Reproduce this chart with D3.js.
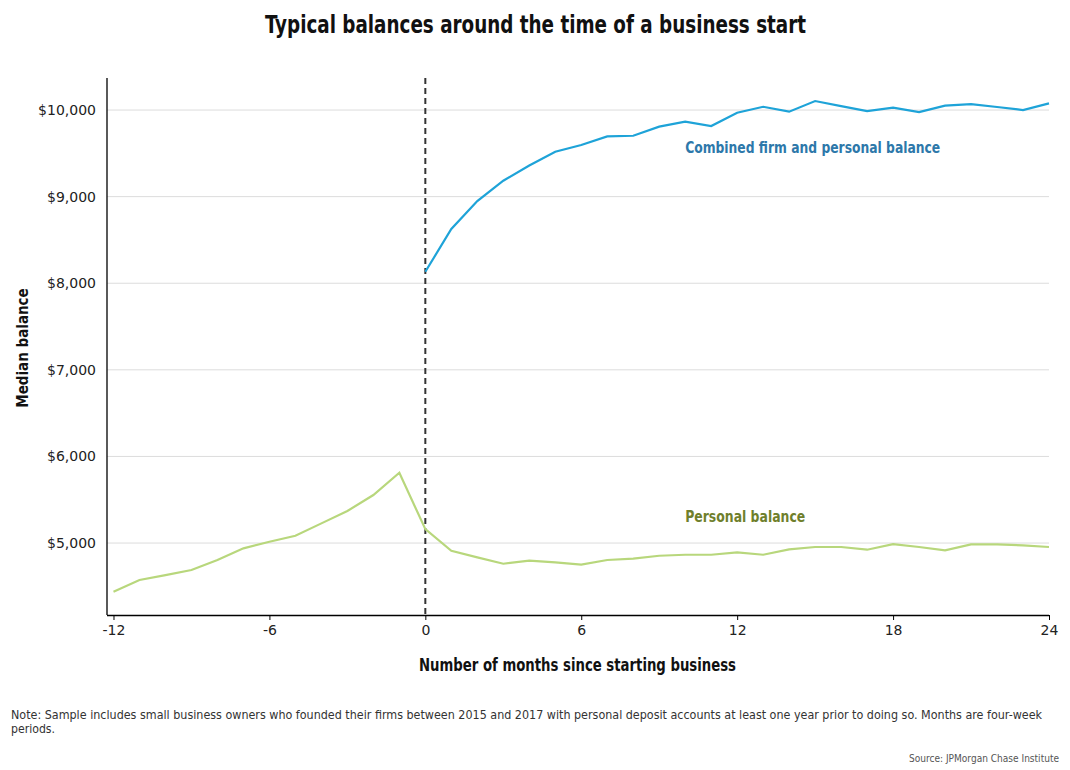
<!DOCTYPE html>
<html><head><meta charset="utf-8">
<script src="https://cdn.jsdelivr.net/npm/d3@7"></script>
<style>
body{margin:0;background:#fff;}
svg{display:block;}
.cond{font-family:"DejaVu Sans Condensed","Liberation Sans Narrow",sans-serif;}
</style>
</head><body>
<svg id="chart" width="1070" height="770"></svg>
<script>
const monthsPersonal = [-12,-11,-10,-9,-8,-7,-6,-5,-4,-3,-2,-1,0,1,2,3,4,5,6,7,8,9,10,11,12,13,14,15,16,17,18,19,20,21,22,23,24];
const personalBalance = [4438,4573,4630,4688,4804,4939,5015,5084,5227,5370,5554,5812,5160,4911,4835,4761,4796,4777,4750,4804,4819,4853,4865,4865,4892,4865,4927,4954,4954,4923,4988,4954,4915,4985,4985,4973,4954];
const monthsCombined = [0,1,2,3,4,5,6,7,8,9,10,11,12,13,14,15,16,17,18,19,20,21,22,23,24];
const combinedBalance = [8133,8626,8949,9184,9360,9519,9596,9696,9703,9808,9865,9815,9969,10038,9981,10104,10046,9988,10027,9977,10050,10069,10035,10000,10077];
const xTicks = [-12,-6,0,6,12,18,24];
const yTicks = [5000,6000,7000,8000,9000,10000];
const title = "Typical balances around the time of a business start";
const xLabel = "Number of months since starting business";
const yLabel = "Median balance";
const seriesLabels = ["Combined firm and personal balance","Personal balance"];
const note1 = "Note: Sample includes small business owners who founded their firms between 2015 and 2017 with personal deposit accounts at least one year prior to doing so. Months are four-week";
const note2 = "periods.";
const source = "Source: JPMorgan Chase Institute";

const svg = d3.select("#chart");
const mLeft = 107, mRight = 1049, mTop = 78, mBottom = 615;

const x = d3.scaleLinear().domain([-12.25, 24]).range([mLeft, mRight]);
const y = d3.scaleLinear().domain([4169, 10370]).range([mBottom, mTop]);

function squeeze(sel, len){ sel.attr("textLength",len).attr("lengthAdjust","spacingAndGlyphs"); return sel; }

// title
squeeze(svg.append("text").attr("class","cond").attr("x",535.5).attr("y",33)
  .attr("text-anchor","middle").attr("font-size",24).attr("font-weight","bold")
  .attr("fill","#111").text(title), 541);

// gridlines
svg.append("g").selectAll("line").data(yTicks).join("line")
  .attr("x1",mLeft).attr("x2",mRight).attr("y1",d=>y(d)).attr("y2",d=>y(d))
  .attr("stroke","#dcdcdc").attr("stroke-width",1);

// y axis
const yAxis = svg.append("g").attr("transform",`translate(${mLeft},0)`)
  .call(d3.axisLeft(y).tickValues(yTicks).tickSize(0).tickPadding(11).tickFormat(d=>"$"+d3.format(",")(d)));
yAxis.select(".domain").remove();
yAxis.selectAll("text").attr("font-family","'DejaVu Sans',sans-serif").attr("font-size",14).attr("fill","#222");
svg.append("line").attr("x1",mLeft).attr("x2",mLeft).attr("y1",mTop).attr("y2",mBottom).attr("stroke","#000").attr("stroke-width",1.3);

// x axis
const xAxis = svg.append("g").attr("transform",`translate(0,${mBottom})`)
  .call(d3.axisBottom(x).tickValues(xTicks).tickSize(5).tickPadding(5).tickFormat(d=>d));
xAxis.select(".domain").attr("d",`M${mLeft},0.5H${mRight}`).attr("stroke","#000").attr("stroke-width",1.3);
xAxis.selectAll(".tick line").attr("stroke","#000");
xAxis.selectAll("text").attr("font-family","'DejaVu Sans',sans-serif").attr("font-size",14).attr("fill","#222");

// axis labels
squeeze(svg.append("text").attr("class","cond").attr("x",577.5).attr("y",671)
  .attr("text-anchor","middle").attr("font-size",17).attr("font-weight","bold").attr("fill","#111").text(xLabel), 317);
svg.append("text").attr("font-family","'DejaVu Sans Condensed','DejaVu Sans',sans-serif")
  .attr("transform","translate(28,348) rotate(-90)")
  .attr("text-anchor","middle").attr("font-size",15).attr("font-weight","bold").attr("fill","#111").text(yLabel);

// dashed line at 0
svg.append("line").attr("x1",x(0)).attr("x2",x(0)).attr("y1",mTop).attr("y2",mBottom)
  .attr("stroke","#333").attr("stroke-width",2).attr("stroke-dasharray","6,4");

// lines
const line = d3.line().x(d=>x(d[0])).y(d=>y(d[1]));
svg.append("path").datum(monthsPersonal.map((m,i)=>[m,personalBalance[i]]))
  .attr("d",line).attr("fill","none").attr("stroke","#b8d77c").attr("stroke-width",2.2);
svg.append("path").datum(monthsCombined.map((m,i)=>[m,combinedBalance[i]]))
  .attr("d",line).attr("fill","none").attr("stroke","#1ea3d8").attr("stroke-width",2.2);

// series labels
squeeze(svg.append("text").attr("class","cond").attr("x",x(10)).attr("y",153)
  .attr("font-size",16).attr("font-weight","bold").attr("fill","#2d78aa").text(seriesLabels[0]), 255);
squeeze(svg.append("text").attr("class","cond").attr("x",x(10)).attr("y",522)
  .attr("font-size",16).attr("font-weight","bold").attr("fill","#6f7f2c").text(seriesLabels[1]), 120);

// notes
squeeze(svg.append("text").attr("class","cond").attr("x",11).attr("y",719).attr("font-size",12.3).attr("fill","#333").text(note1), 1031);
squeeze(svg.append("text").attr("class","cond").attr("x",11).attr("y",733).attr("font-size",12.3).attr("fill","#333").text(note2), 44);
squeeze(svg.append("text").attr("class","cond").attr("x",1059).attr("y",762).attr("text-anchor","end").attr("font-size",10).attr("fill","#555").text(source), 150);
</script>
</body></html>
